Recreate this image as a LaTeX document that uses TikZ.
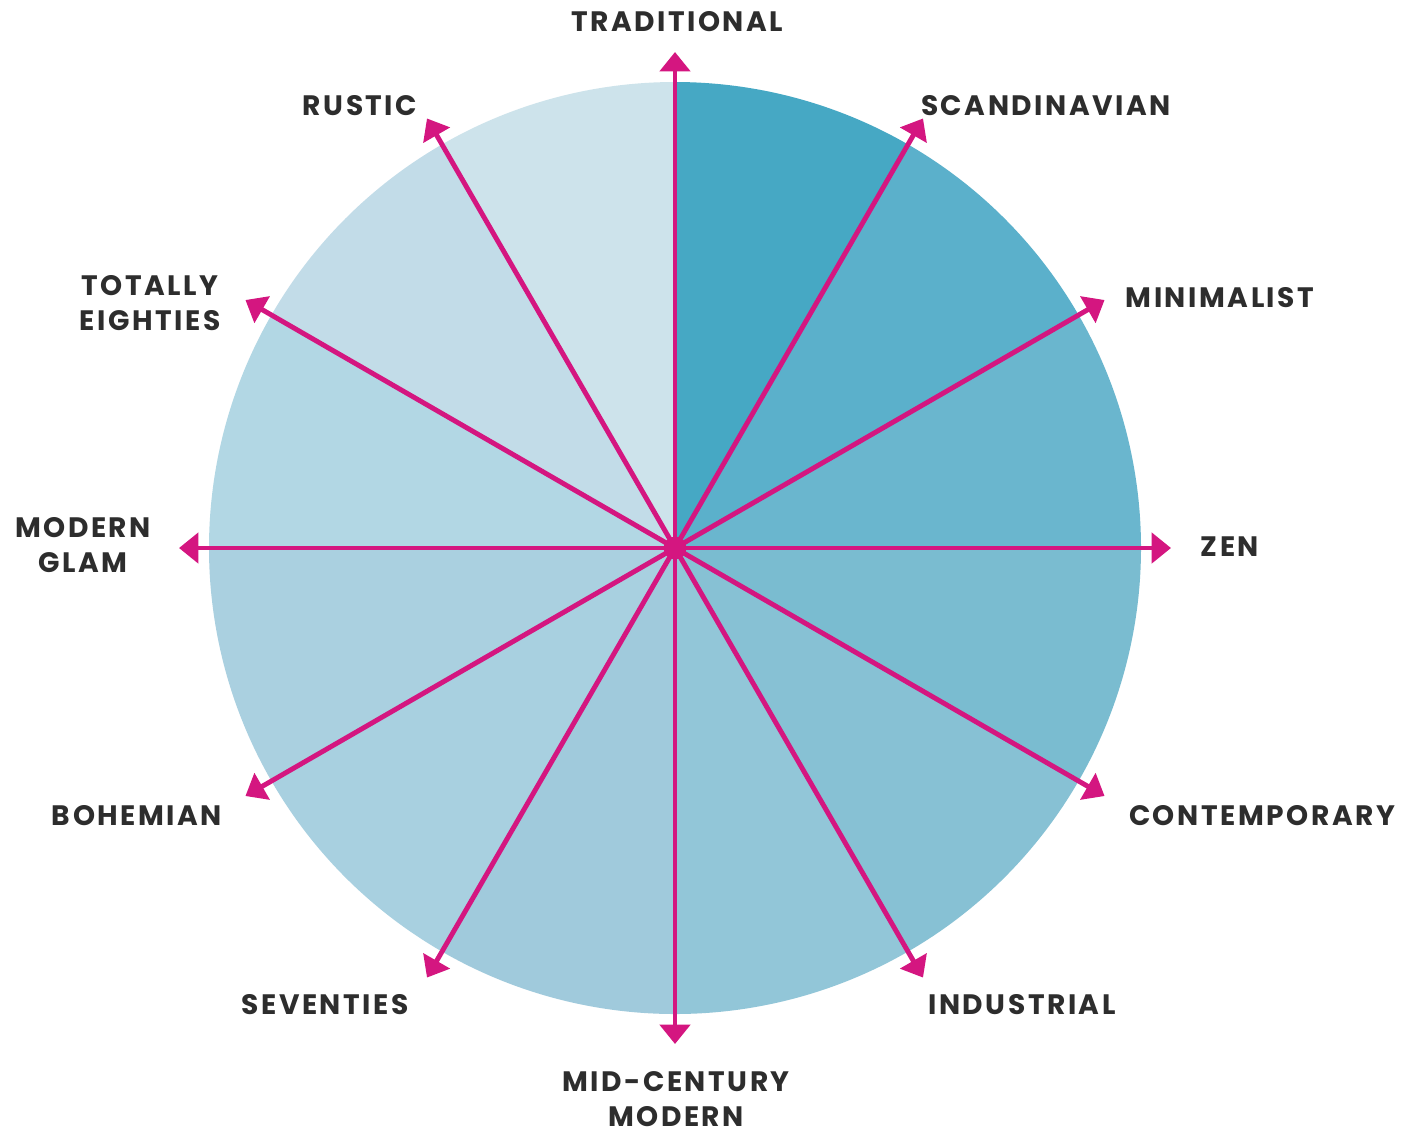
\documentclass[tikz,border=0pt]{standalone}
\usepackage{fontspec}
\usetikzlibrary{arrows.meta, calc}
\newfontfamily\stylefont[LetterSpace=9]{Poppins}

\definecolor{spokecol}{RGB}{212,22,128}
\definecolor{labelcol}{RGB}{45,45,45}
\definecolor{secA}{RGB}{70,168,196}
\definecolor{secB}{RGB}{91,176,203}
\definecolor{secC}{RGB}{106,182,206}
\definecolor{secD}{RGB}{122,188,208}
\definecolor{secE}{RGB}{135,193,212}
\definecolor{secF}{RGB}{146,198,216}
\definecolor{secG}{RGB}{160,202,220}
\definecolor{secH}{RGB}{168,208,224}
\definecolor{secI}{RGB}{170,208,224}
\definecolor{secJ}{RGB}{178,215,228}
\definecolor{secK}{RGB}{194,220,232}
\definecolor{secL}{RGB}{205,227,235}

\tikzset{
  spoke/.style={draw=spokecol, line width=2.8pt, -{Triangle[width=17pt,length=11pt]}},
  stylelabel/.style={font=\stylefont\bfseries\fontsize{16}{19.5}\selectfont, text=labelcol, align=center, inner sep=0pt},
}

\begin{document}
\begin{tikzpicture}[x=0.02cm, y=0.02cm]
  \useasboundingbox[fill=white] (0,0) rectangle (1416,-1134);
  \coordinate (o) at (675,-548);

  % wedges, clockwise from the top
  \foreach \a/\col in {60/secA, 30/secB, 0/secC, -30/secD, -60/secE, -90/secF,
                       -120/secG, -150/secH, -180/secI, 150/secJ, 120/secK, 90/secL}
    \fill[\col] (o) -- ++(\a:466) arc[start angle=\a, delta angle=30, radius=466] -- cycle;

  \node[circle, fill=spokecol, inner sep=0pt, minimum size=13] (hub) at (o) {};

  % spokes
  \foreach \a in {0,30,...,330} {
    \coordinate (tip\a) at ($(o)+(\a:496)$);
    \draw[spoke] (hub.center) -- (tip\a);
  }

  % labels
  \node[stylelabel] (trad) at (677,-22) {TRADITIONAL};
  \node[stylelabel] (scan) at (1046,-106) {SCANDINAVIAN};
  \node[stylelabel] (mini) at (1220,-298) {MINIMALIST};
  \node[stylelabel] (zen) at (1230,-547) {ZEN};
  \node[stylelabel] (cont) at (1262,-816) {CONTEMPORARY};
  \node[stylelabel] (indu) at (1022,-1005) {INDUSTRIAL};
  \node[stylelabel] (midc) at (676,-1099) {MID-CENTURY\\MODERN};
  \node[stylelabel] (seve) at (325,-1005) {SEVENTIES};
  \node[stylelabel] (bohe) at (137,-816) {BOHEMIAN};
  \node[stylelabel] (glam) at (83,-545) {MODERN\\GLAM};
  \node[stylelabel] (eigh) at (150,-303) {TOTALLY\\EIGHTIES};
  \node[stylelabel] (rust) at (360,-106) {RUSTIC};
\end{tikzpicture}
\end{document}
